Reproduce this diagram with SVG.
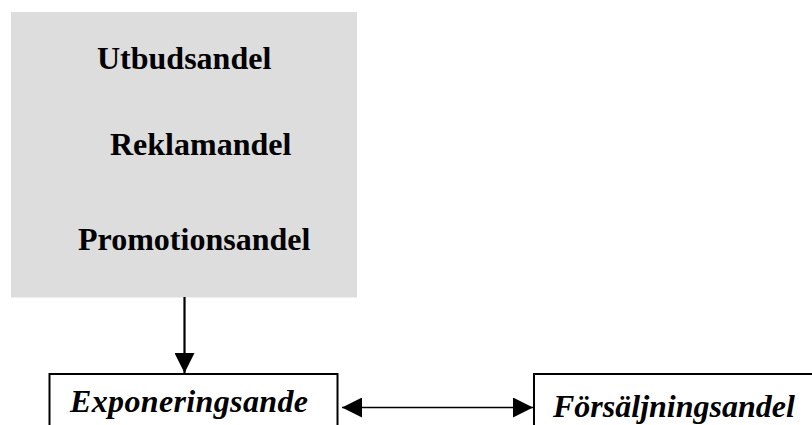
<svg xmlns="http://www.w3.org/2000/svg" width="812" height="425" viewBox="0 0 812 425">
<style>
.t{font-family:'Liberation Serif','DejaVu Serif',serif;font-weight:700;font-size:32px;fill:#000}
.i{font-style:italic}
.box{fill:#fff;stroke:#000;stroke-width:2}
.ln{stroke:#000;fill:none}
</style>
<defs>
<marker id="ah" viewBox="0 0 20 20" refX="20" refY="10" markerWidth="20" markerHeight="20" markerUnits="userSpaceOnUse" orient="auto-start-reverse">
<path d="M0,0 L20,10 L0,20 Z" fill="#000"/>
</marker>
</defs>
<rect width="812" height="425" fill="#fff"/>
<g id="andelar">
<rect x="11" y="12" width="346" height="285.5" fill="#dddddd"/>
<text class="t" x="97" y="69" font-family="Liberation Serif">Utbudsandel</text>
<text class="t" x="110" y="155" font-family="Liberation Serif">Reklamandel</text>
<text class="t" x="78" y="250" font-family="Liberation Serif">Promotionsandel</text>
</g>
<g id="exponering">
<rect class="box" x="49.5" y="374" width="288" height="60"/>
<text class="t i" x="70" y="412" font-family="Liberation Serif" textLength="238">Exponeringsande</text>
</g>
<g id="forsaljning">
<rect class="box" x="534" y="374" width="290" height="60"/>
<text class="t i" x="553" y="417" font-family="Liberation Serif">Försäljningsandel</text>
</g>
<g id="connectors">
<line class="ln" x1="184.5" y1="297" x2="184.5" y2="373" stroke-width="2.2" marker-end="url(#ah)"/>
<line class="ln" x1="342" y1="407.5" x2="533" y2="407.5" stroke-width="1.6" marker-start="url(#ah)" marker-end="url(#ah)"/>
</g>
</svg>
